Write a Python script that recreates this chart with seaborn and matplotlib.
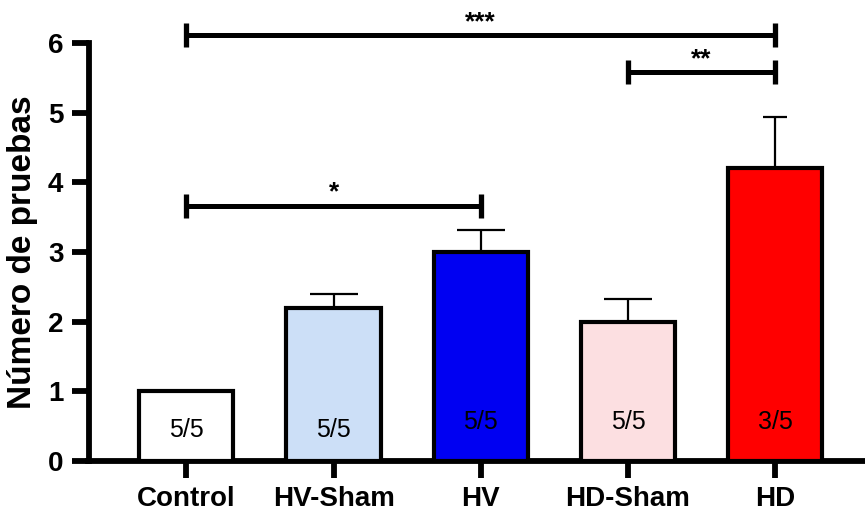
import matplotlib
matplotlib.use("Agg")
import matplotlib.pyplot as plt
import seaborn as sns
import pandas as pd

# Group data: mean number of trials, SEM, and responder fraction
groups = ["Control", "HV-Sham", "HV", "HD-Sham", "HD"]
means = [1.0, 2.2, 3.0, 2.0, 4.2]
sems = [0.0, 0.2, 0.32, 0.32, 0.74]
fractions = ["5/5", "5/5", "5/5", "5/5", "3/5"]
colors = ["#FFFFFF", "#CCDFF7", "#0000F2", "#FCDFE1", "#FF0000"]

# Significance brackets: (left group, right group, height, label)
brackets = [(0, 4, 6.11, "***"), (3, 4, 5.58, "**"), (0, 2, 3.66, "*")]

sns.set_theme(style="ticks")
plt.rcParams["font.family"] = ["Liberation Sans", "DejaVu Sans"]
plt.rcParams.update({"text.color": "black", "axes.labelcolor": "black",
                     "xtick.color": "black", "ytick.color": "black"})

fig = plt.figure(figsize=(8.65, 5.13), dpi=100)
ax = fig.add_axes([88.5 / 865, 52 / 513, (865 - 88.5) / 865, 418 / 513])

df = pd.DataFrame({"grupo": groups, "valor": means})
sns.barplot(data=df, x="grupo", y="valor", hue="grupo", order=groups,
            palette=colors, saturation=1, edgecolor="black", linewidth=3.0,
            width=0.64, errorbar=None, legend=False, ax=ax, zorder=3)

# upward-only SEM whiskers; the last group's cap is drawn narrower
cap_half = [17.5, 17.5, 17.5, 17.5, 8.7]
for i, (m, s) in enumerate(zip(means, sems)):
    if s > 0:
        ax.errorbar(i, m, yerr=[[0], [s]], fmt="none", ecolor="black",
                    elinewidth=1.6, capsize=cap_half[i], capthick=1.6,
                    zorder=2)

# responder fractions inside the bars
label_y = [0.44, 0.44, 0.56, 0.56, 0.56]
for i, txt in enumerate(fractions):
    ax.text(i, label_y[i], txt, ha="center", va="center", fontsize=18,
            color="black", zorder=5)

cap = 0.17
for a, b, h, lab in brackets:
    ax.plot([a, b], [h, h], color="black", lw=3.6, clip_on=False,
            solid_capstyle="butt", zorder=4)
    for xx in (a, b):
        ax.plot([xx, xx], [h - cap, h + cap], color="black", lw=3.8,
                clip_on=False, solid_capstyle="butt", zorder=4)
    ax.text((a + b) / 2, h + 0.09, lab, ha="center", va="baseline",
            fontsize=19, fontweight="bold", clip_on=False)

ax.set_xlim(-0.665, 4.61)
ax.set_ylim(0, 6)
ax.set_yticks(range(0, 7))
ax.set_xlabel("")
ax.set_ylabel("Número de pruebas", fontsize=24, fontweight="bold",
              labelpad=7)

for side in ("top", "right"):
    ax.spines[side].set_visible(False)
for side in ("left", "bottom"):
    ax.spines[side].set_linewidth(4.2)
    ax.spines[side].set_color("black")
    ax.spines[side].set_capstyle("projecting")

ax.tick_params(axis="y", length=12, width=4.2, color="black",
               labelsize=20, pad=6)
ax.tick_params(axis="x", length=12, width=4.2, color="black",
               labelsize=20, pad=6)
for lab in ax.get_xticklabels() + ax.get_yticklabels():
    lab.set_fontweight("bold")

fig.savefig("out.png", dpi=100)
